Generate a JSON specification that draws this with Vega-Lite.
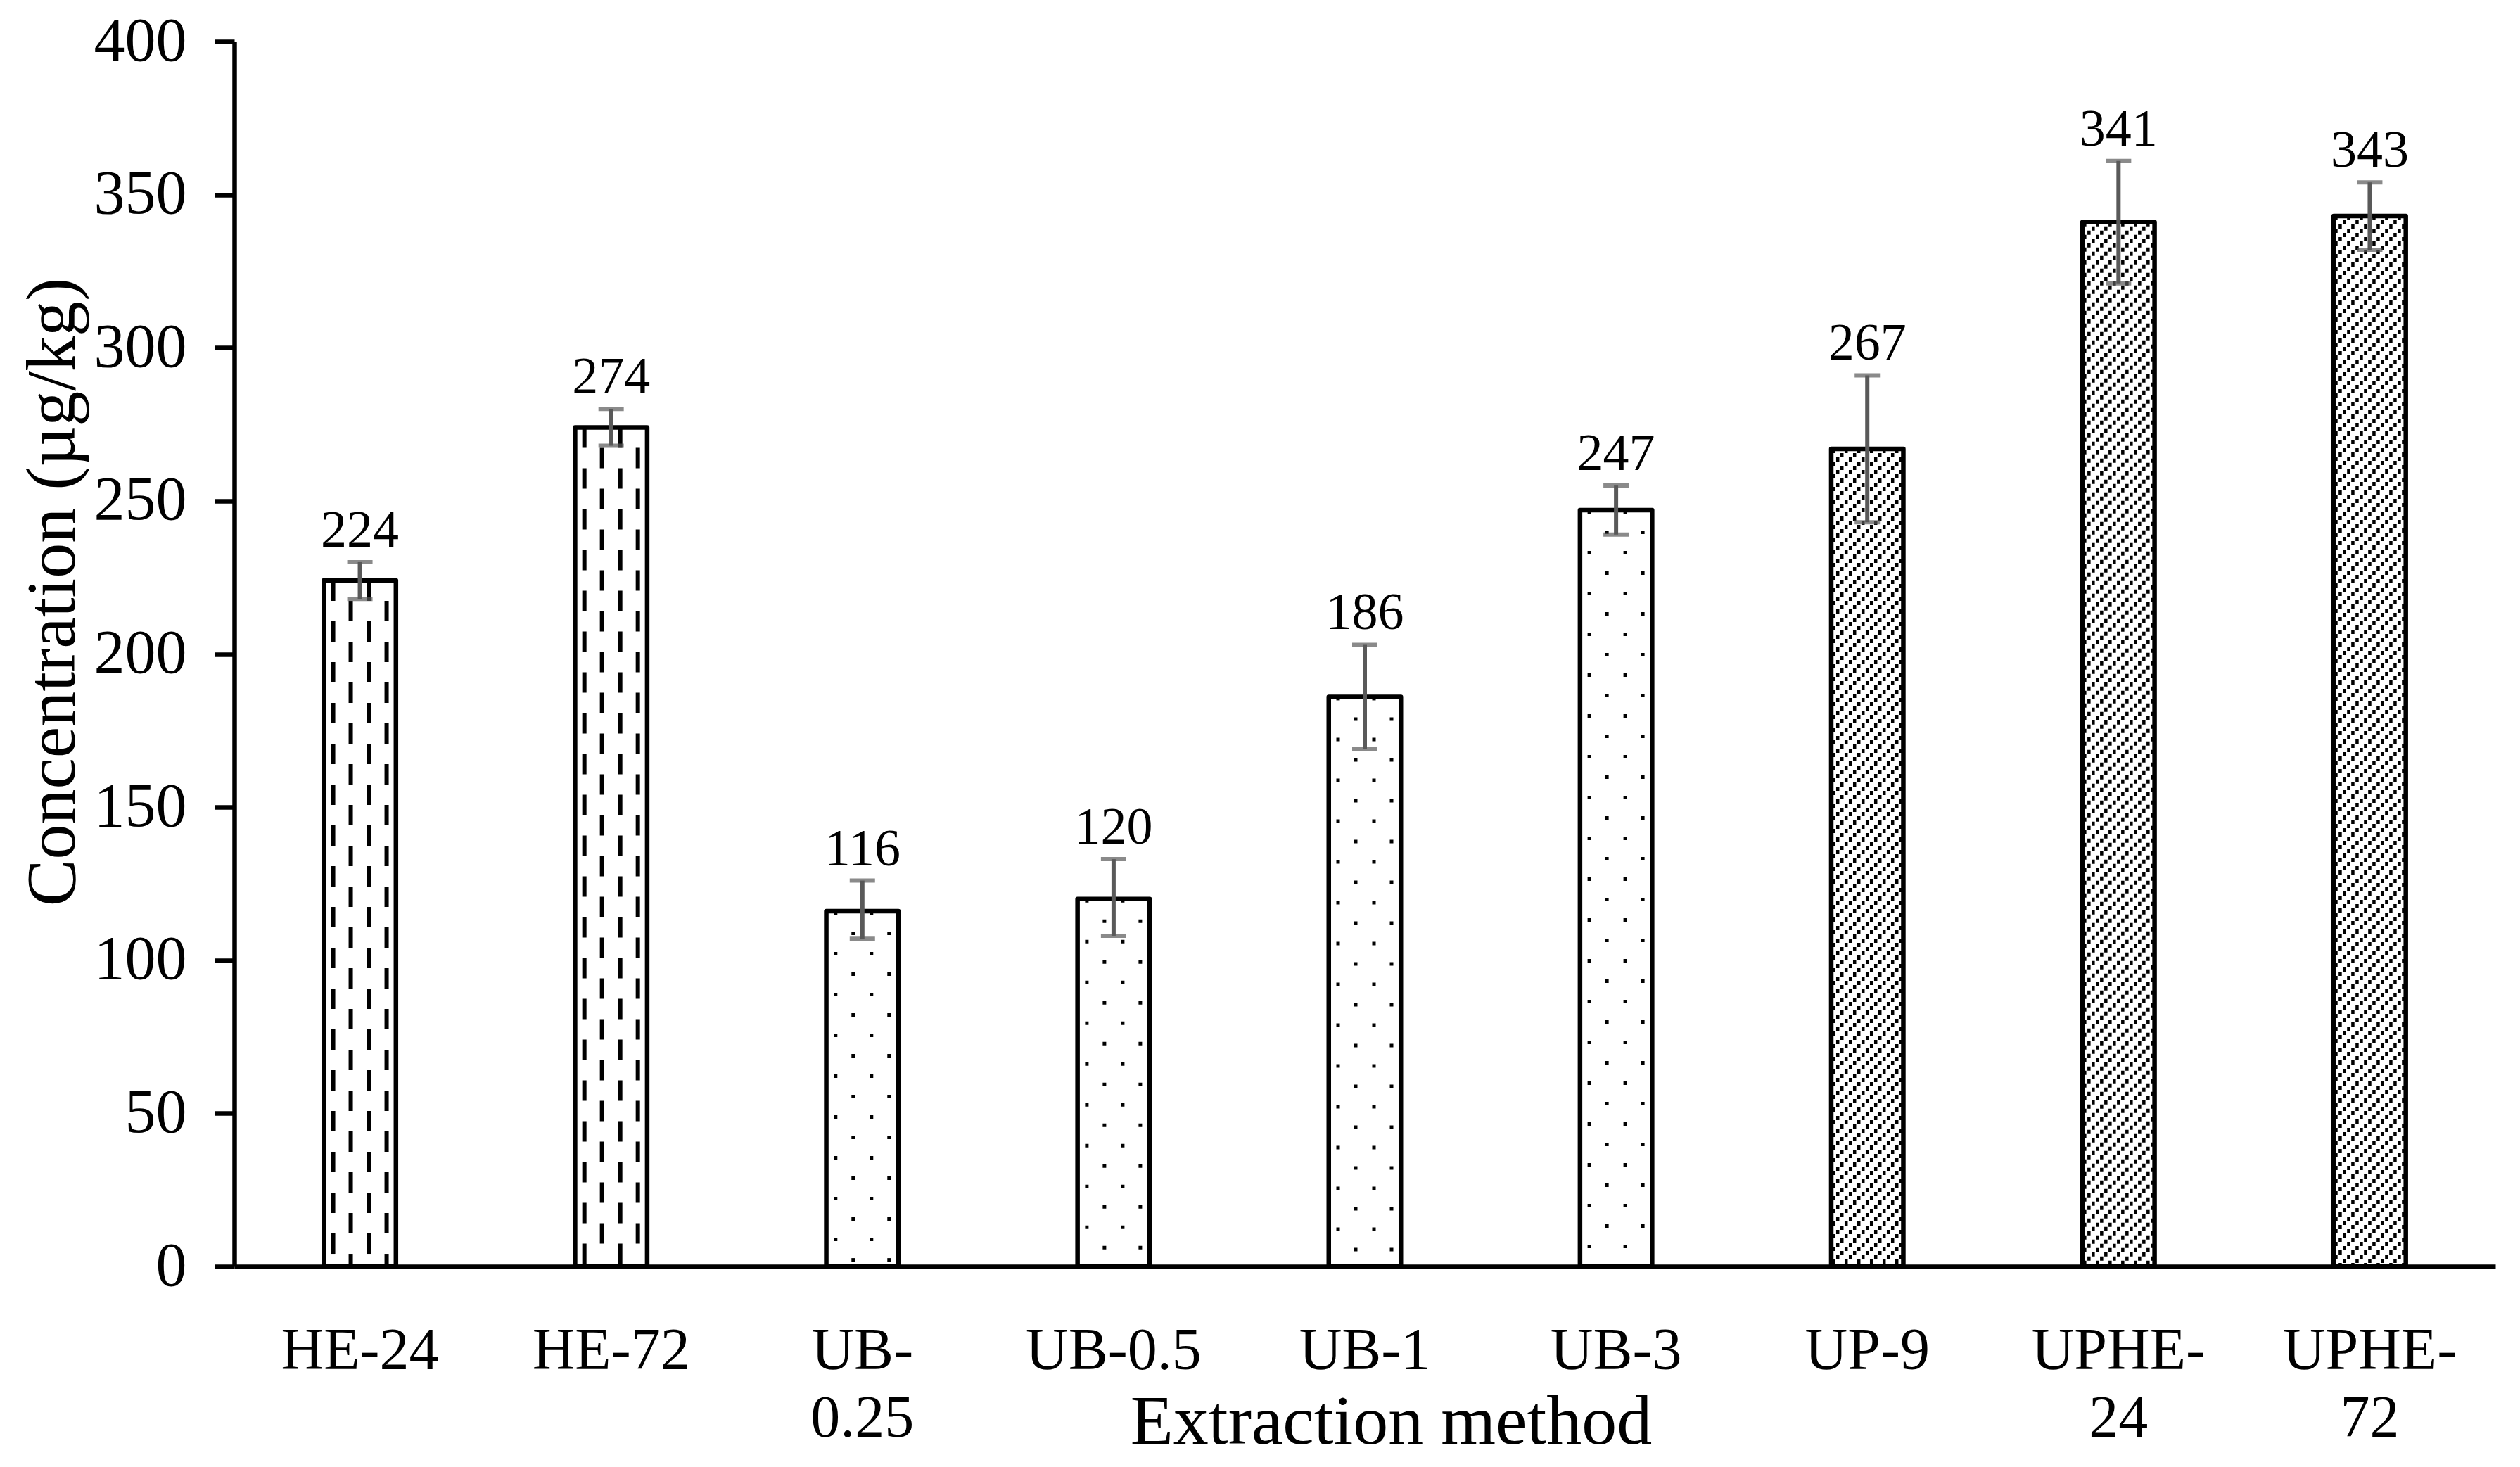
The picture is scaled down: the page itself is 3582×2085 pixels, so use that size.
{
  "$schema": "https://vega.github.io/schema/vega-lite/v6.json",
  "width": 3214,
  "height": 1741,
  "autosize": {"type": "none"},
  "padding": {"left": 333, "top": 59, "right": 35, "bottom": 285},
  "background": "white",
  "config": {
    "view": {"stroke": null},
    "font": "Liberation Serif",
    "axis": {"labelFont": "Liberation Serif", "titleFont": "Liberation Serif", "labelColor": "black", "titleColor": "black", "titleFontWeight": "normal"}
  },
  "data": {
    "values": [
      {"method": "HE-24", "group": "HE", "value": 224, "lo": 218, "hi": 230},
      {"method": "HE-72", "group": "HE", "value": 274, "lo": 268, "hi": 280},
      {"method": "UB-0.25", "group": "UB", "value": 116, "lo": 107, "hi": 126},
      {"method": "UB-0.5", "group": "UB", "value": 120, "lo": 108, "hi": 133},
      {"method": "UB-1", "group": "UB", "value": 186, "lo": 169, "hi": 203},
      {"method": "UB-3", "group": "UB", "value": 247, "lo": 239, "hi": 255},
      {"method": "UP-9", "group": "UP", "value": 267, "lo": 243, "hi": 291},
      {"method": "UPHE-24", "group": "UP", "value": 341, "lo": 321, "hi": 361},
      {"method": "UPHE-72", "group": "UP", "value": 343, "lo": 332, "hi": 354}
    ]
  },
  "encoding": {
    "x": {
      "field": "method", "type": "nominal", "sort": null,
      "scale": {"paddingInner": 0.713, "paddingOuter": 0.3565},
      "axis": {
        "title": "Extraction method", "titleFontSize": 100, "titleX": 1644, "titleY": 251, "titleAlign": "center", "titleBaseline": "alphabetic",
        "labelAngle": 0, "labelFontSize": 84, "labelBaseline": "top", "labelPadding": 79, "labelLineHeight": 96, "labelLimit": 2000,
        "labelExpr": "datum.value == 'UB-0.25' ? ['UB-', '0.25'] : datum.value == 'UPHE-24' ? ['UPHE-', '24'] : datum.value == 'UPHE-72' ? ['UPHE-', '72'] : datum.value",
        "ticks": false, "domainColor": "black", "domainWidth": 6.5
      }
    }
  },
  "layer": [
    {
      "mark": {"type": "bar", "fill": "white", "strokeWidth": 0},
      "encoding": {
        "y": {"field": "value", "type": "quantitative",
          "scale": {"domain": [0, 400], "nice": false},
          "axis": {
            "title": "Concentration (µg/kg)", "titleFontSize": 100, "titleX": -228, "titleY": 782, "titleAlign": "center", "titleBaseline": "alphabetic", "titleAngle": -90,
            "values": [0, 50, 100, 150, 200, 250, 300, 350, 400], "labelFontSize": 88, "labelPadding": 40,
            "grid": false, "tickSize": 28, "tickWidth": 6.5, "tickColor": "black", "domainColor": "black", "domainWidth": 6.5
          }
        }
      }
    },
    {"transform": [{"filter": "datum.group == 'HE'"}], "mark": {"type": "rule", "color": "black", "strokeWidth": 6, "strokeDash": [29, 29], "strokeDashOffset": 0, "xOffset": -38}, "encoding": {"y": {"field": "value", "type": "quantitative"}, "y2": {"datum": 0}}},
    {"transform": [{"filter": "datum.group == 'HE'"}], "mark": {"type": "rule", "color": "black", "strokeWidth": 6, "strokeDash": [29, 29], "strokeDashOffset": 29, "xOffset": -13}, "encoding": {"y": {"field": "value", "type": "quantitative"}, "y2": {"datum": 0}}},
    {"transform": [{"filter": "datum.group == 'HE'"}], "mark": {"type": "rule", "color": "black", "strokeWidth": 6, "strokeDash": [29, 29], "strokeDashOffset": 0, "xOffset": 13}, "encoding": {"y": {"field": "value", "type": "quantitative"}, "y2": {"datum": 0}}},
    {"transform": [{"filter": "datum.group == 'HE'"}], "mark": {"type": "rule", "color": "black", "strokeWidth": 6, "strokeDash": [29, 29], "strokeDashOffset": 29, "xOffset": 38}, "encoding": {"y": {"field": "value", "type": "quantitative"}, "y2": {"datum": 0}}},
    {"transform": [{"filter": "datum.group == 'UB'"}], "mark": {"type": "rule", "color": "black", "strokeWidth": 5, "strokeDash": [5, 53], "strokeDashOffset": 0, "xOffset": -38}, "encoding": {"y": {"field": "value", "type": "quantitative"}, "y2": {"datum": 0}}},
    {"transform": [{"filter": "datum.group == 'UB'"}], "mark": {"type": "rule", "color": "black", "strokeWidth": 5, "strokeDash": [5, 53], "strokeDashOffset": 29, "xOffset": -13}, "encoding": {"y": {"field": "value", "type": "quantitative"}, "y2": {"datum": 0}}},
    {"transform": [{"filter": "datum.group == 'UB'"}], "mark": {"type": "rule", "color": "black", "strokeWidth": 5, "strokeDash": [5, 53], "strokeDashOffset": 0, "xOffset": 13}, "encoding": {"y": {"field": "value", "type": "quantitative"}, "y2": {"datum": 0}}},
    {"transform": [{"filter": "datum.group == 'UB'"}], "mark": {"type": "rule", "color": "black", "strokeWidth": 5, "strokeDash": [5, 53], "strokeDashOffset": 29, "xOffset": 38}, "encoding": {"y": {"field": "value", "type": "quantitative"}, "y2": {"datum": 0}}},
    {"transform": [{"filter": "datum.group == 'UP'"}], "mark": {"type": "rule", "color": "black", "strokeWidth": 4.5, "strokeDash": [6, 12], "strokeDashOffset": 0, "xOffset": -48}, "encoding": {"y": {"field": "value", "type": "quantitative"}, "y2": {"datum": 0}}},
    {"transform": [{"filter": "datum.group == 'UP'"}], "mark": {"type": "rule", "color": "black", "strokeWidth": 4.5, "strokeDash": [6, 12], "strokeDashOffset": 6, "xOffset": -42}, "encoding": {"y": {"field": "value", "type": "quantitative"}, "y2": {"datum": 0}}},
    {"transform": [{"filter": "datum.group == 'UP'"}], "mark": {"type": "rule", "color": "black", "strokeWidth": 4.5, "strokeDash": [6, 12], "strokeDashOffset": 12, "xOffset": -36}, "encoding": {"y": {"field": "value", "type": "quantitative"}, "y2": {"datum": 0}}},
    {"transform": [{"filter": "datum.group == 'UP'"}], "mark": {"type": "rule", "color": "black", "strokeWidth": 4.5, "strokeDash": [6, 12], "strokeDashOffset": 0, "xOffset": -30}, "encoding": {"y": {"field": "value", "type": "quantitative"}, "y2": {"datum": 0}}},
    {"transform": [{"filter": "datum.group == 'UP'"}], "mark": {"type": "rule", "color": "black", "strokeWidth": 4.5, "strokeDash": [6, 12], "strokeDashOffset": 6, "xOffset": -24}, "encoding": {"y": {"field": "value", "type": "quantitative"}, "y2": {"datum": 0}}},
    {"transform": [{"filter": "datum.group == 'UP'"}], "mark": {"type": "rule", "color": "black", "strokeWidth": 4.5, "strokeDash": [6, 12], "strokeDashOffset": 12, "xOffset": -18}, "encoding": {"y": {"field": "value", "type": "quantitative"}, "y2": {"datum": 0}}},
    {"transform": [{"filter": "datum.group == 'UP'"}], "mark": {"type": "rule", "color": "black", "strokeWidth": 4.5, "strokeDash": [6, 12], "strokeDashOffset": 0, "xOffset": -12}, "encoding": {"y": {"field": "value", "type": "quantitative"}, "y2": {"datum": 0}}},
    {"transform": [{"filter": "datum.group == 'UP'"}], "mark": {"type": "rule", "color": "black", "strokeWidth": 4.5, "strokeDash": [6, 12], "strokeDashOffset": 6, "xOffset": -6}, "encoding": {"y": {"field": "value", "type": "quantitative"}, "y2": {"datum": 0}}},
    {"transform": [{"filter": "datum.group == 'UP'"}], "mark": {"type": "rule", "color": "black", "strokeWidth": 4.5, "strokeDash": [6, 12], "strokeDashOffset": 12, "xOffset": 0}, "encoding": {"y": {"field": "value", "type": "quantitative"}, "y2": {"datum": 0}}},
    {"transform": [{"filter": "datum.group == 'UP'"}], "mark": {"type": "rule", "color": "black", "strokeWidth": 4.5, "strokeDash": [6, 12], "strokeDashOffset": 0, "xOffset": 6}, "encoding": {"y": {"field": "value", "type": "quantitative"}, "y2": {"datum": 0}}},
    {"transform": [{"filter": "datum.group == 'UP'"}], "mark": {"type": "rule", "color": "black", "strokeWidth": 4.5, "strokeDash": [6, 12], "strokeDashOffset": 6, "xOffset": 12}, "encoding": {"y": {"field": "value", "type": "quantitative"}, "y2": {"datum": 0}}},
    {"transform": [{"filter": "datum.group == 'UP'"}], "mark": {"type": "rule", "color": "black", "strokeWidth": 4.5, "strokeDash": [6, 12], "strokeDashOffset": 12, "xOffset": 18}, "encoding": {"y": {"field": "value", "type": "quantitative"}, "y2": {"datum": 0}}},
    {"transform": [{"filter": "datum.group == 'UP'"}], "mark": {"type": "rule", "color": "black", "strokeWidth": 4.5, "strokeDash": [6, 12], "strokeDashOffset": 0, "xOffset": 24}, "encoding": {"y": {"field": "value", "type": "quantitative"}, "y2": {"datum": 0}}},
    {"transform": [{"filter": "datum.group == 'UP'"}], "mark": {"type": "rule", "color": "black", "strokeWidth": 4.5, "strokeDash": [6, 12], "strokeDashOffset": 6, "xOffset": 30}, "encoding": {"y": {"field": "value", "type": "quantitative"}, "y2": {"datum": 0}}},
    {"transform": [{"filter": "datum.group == 'UP'"}], "mark": {"type": "rule", "color": "black", "strokeWidth": 4.5, "strokeDash": [6, 12], "strokeDashOffset": 12, "xOffset": 36}, "encoding": {"y": {"field": "value", "type": "quantitative"}, "y2": {"datum": 0}}},
    {"transform": [{"filter": "datum.group == 'UP'"}], "mark": {"type": "rule", "color": "black", "strokeWidth": 4.5, "strokeDash": [6, 12], "strokeDashOffset": 0, "xOffset": 42}, "encoding": {"y": {"field": "value", "type": "quantitative"}, "y2": {"datum": 0}}},
    {"transform": [{"filter": "datum.group == 'UP'"}], "mark": {"type": "rule", "color": "black", "strokeWidth": 4.5, "strokeDash": [6, 12], "strokeDashOffset": 6, "xOffset": 48}, "encoding": {"y": {"field": "value", "type": "quantitative"}, "y2": {"datum": 0}}},
    {
      "mark": {"type": "bar", "fillOpacity": 0, "stroke": "black", "strokeWidth": 6.5, "strokeJoin": "round"},
      "encoding": {"y": {"field": "value", "type": "quantitative"}}
    },
    {
      "mark": {"type": "rule", "color": "#595959", "strokeWidth": 6},
      "encoding": {"y": {"field": "lo", "type": "quantitative"}, "y2": {"field": "hi"}}
    },
    {
      "mark": {"type": "tick", "color": "#595959", "thickness": 6, "size": 36},
      "encoding": {"y": {"field": "lo", "type": "quantitative"}}
    },
    {
      "mark": {"type": "tick", "color": "#595959", "thickness": 6, "size": 36},
      "encoding": {"y": {"field": "hi", "type": "quantitative"}}
    },
    {
      "mark": {"type": "text", "font": "Liberation Serif", "fontSize": 74, "color": "black", "baseline": "alphabetic", "align": "center", "dy": -22},
      "encoding": {"y": {"field": "hi", "type": "quantitative"}, "text": {"field": "value", "type": "quantitative"}}
    }
  ]
}
